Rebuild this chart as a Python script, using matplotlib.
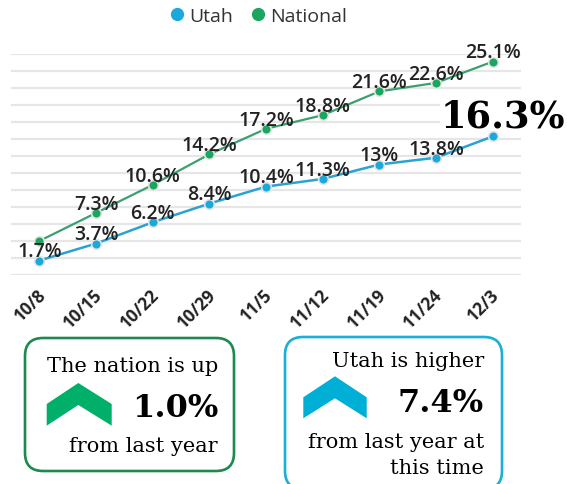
import matplotlib
matplotlib.use("Agg")
import matplotlib.pyplot as plt
from matplotlib.lines import Line2D
from matplotlib.patches import FancyBboxPatch, Polygon, Rectangle
import matplotlib.transforms as mtransforms

dates = ["10/8", "10/15", "10/22", "10/29", "11/5", "11/12", "11/19", "11/24", "12/3"]
utah = [1.7, 3.7, 6.2, 8.4, 10.4, 11.3, 13.0, 13.8, 16.3]
national = [4.0, 7.3, 10.6, 14.2, 17.2, 18.8, 21.6, 22.6, 25.1]
utah_labels = ["1.7%", "3.7%", "6.2%", "8.4%", "10.4%", "11.3%", "13%", "13.8%", ""]
national_labels = ["", "7.3%", "10.6%", "14.2%", "17.2%", "18.8%", "21.6%", "22.6%", "25.1%"]
big_label = "16.3%"

UTAH_C = "#1ba8da"
NAT_C = "#1aa65e"
UTAH_LINE = "#2aa3d2"
NAT_LINE = "#3d9f70"
TXT = "#222222"

W, H = 567, 485
fig = plt.figure(figsize=(W / 100, H / 100), dpi=100)

ax = fig.add_axes([11 / W, 1 - 276 / H, 510 / W, 221 / H])
ax.set_xlim(-0.5, len(dates) - 0.5)
ax.set_ylim(0, 26)
ax.set_yticks(range(0, 27, 2))
ax.yaxis.grid(True, color="#e6e6e6", lw=1.6)
ax.set_axisbelow(True)
for s in ax.spines.values():
    s.set_visible(False)
ax.tick_params(axis="y", length=0, labelleft=False)
ax.tick_params(axis="x", length=0, pad=12)
ax.patch.set_alpha(0)

# overlay axes in pixel coordinates (on top)
ov = fig.add_axes([0, 0, 1, 1])
ov.set_xlim(0, W)
ov.set_ylim(H, 0)
ov.axis("off")
ov.patch.set_alpha(0)

x = list(range(len(dates)))
ax.plot(x, national, color=NAT_LINE, lw=1.6, marker="o", ms=7, mfc=NAT_C,
        mec="#e4e4e4", mew=1.2, zorder=3)
ax.plot(x, utah, color=UTAH_LINE, lw=1.8, marker="o", ms=7, mfc=UTAH_C,
        mec="#e4e4e4", mew=1.2, zorder=3)

lab_font = dict(family=["Open Sans", "DejaVu Sans"], weight="semibold", size=14, color=TXT)
for xi, v, t in zip(x, national, national_labels):
    if t:
        ax.annotate(t, (xi, v), xytext=(0, 3), textcoords="offset points",
                    ha="center", va="baseline", zorder=4, **lab_font)
for xi, v, t in zip(x, utah, utah_labels):
    if t:
        ax.annotate(t, (xi, v), xytext=(0, 3), textcoords="offset points",
                    ha="center", va="baseline", zorder=4, **lab_font)

ax.set_xticks(x)
ax.set_xticklabels(dates)
off = mtransforms.ScaledTranslation(4 / 100, 0, fig.dpi_scale_trans)
for lbl in ax.get_xticklabels():
    lbl.set_rotation(45)
    lbl.set_ha("right")
    lbl.set_va("center")
    lbl.set_rotation_mode("anchor")
    lbl.set_fontfamily(["Open Sans", "DejaVu Sans"])
    lbl.set_fontweight("bold")
    lbl.set_fontsize(12.5)
    lbl.set_color(TXT)
    lbl.set_transform(lbl.get_transform() + off)

# legend
handles = [Line2D([], [], ls="", marker="o", ms=8.5, mfc=UTAH_C, mec=UTAH_C),
           Line2D([], [], ls="", marker="o", ms=8.5, mfc=NAT_C, mec=NAT_C)]
fig.legend(handles, ["Utah", "National"], loc="center", bbox_to_anchor=(257 / W, 1 - 17 / H),
           ncol=2, frameon=False, handletextpad=0.1, columnspacing=0.8, handlelength=1.0,
           prop=dict(family=["Open Sans", "DejaVu Sans"], size=14), labelcolor="#333333")

# big label with white backing
ov.add_patch(Rectangle((440, 95), 127, 34, fc="white", ec="none", zorder=9))
ov.text(565, 127, big_label, ha="right", va="baseline", fontfamily="DejaVu Serif",
        fontweight="bold", fontsize=26.5, color="black", zorder=10)

# boxes
serif = ["DejaVu Serif"]
ov.add_patch(FancyBboxPatch((25, 339), 209, 133, boxstyle="round,pad=0,rounding_size=18",
                            fc="white", ec="#1b8a4e", lw=1.9))
ov.add_patch(FancyBboxPatch((285, 338), 217, 152, boxstyle="round,pad=0,rounding_size=18",
                            fc="white", ec="#19afd8", lw=1.9, clip_on=False))

ov.add_patch(Polygon([(46.7, 405), (78.3, 384), (111.7, 405), (111.7, 426.7),
                      (78.3, 406), (46.7, 426.7)], closed=True, fc="#00b06a", ec="none"))
ov.add_patch(Polygon([(303.3, 398.3), (335, 377.3), (366.7, 398.3), (366.7, 419.3),
                      (335, 399.3), (303.3, 419.3)], closed=True, fc="#00afd6", ec="none"))

ov.text(218, 372, "The nation is up", ha="right", va="baseline", fontfamily=serif,
        fontsize=15, color="black")
ov.text(218, 417, "1.0%", ha="right", va="baseline", fontfamily=serif, fontweight="bold",
        fontsize=23, color="black")
ov.text(218, 452, "from last year", ha="right", va="baseline", fontfamily=serif,
        fontsize=15, color="black")

ov.text(484, 367, "Utah is higher", ha="right", va="baseline", fontfamily=serif,
        fontsize=15, color="black")
ov.text(484, 412, "7.4%", ha="right", va="baseline", fontfamily=serif, fontweight="bold",
        fontsize=23, color="black")
ov.text(484, 448, "from last year at", ha="right", va="baseline", fontfamily=serif,
        fontsize=15, color="black")
ov.text(484, 474, "this time", ha="right", va="baseline", fontfamily=serif,
        fontsize=15, color="black")

fig.savefig("out.png", dpi=100)
